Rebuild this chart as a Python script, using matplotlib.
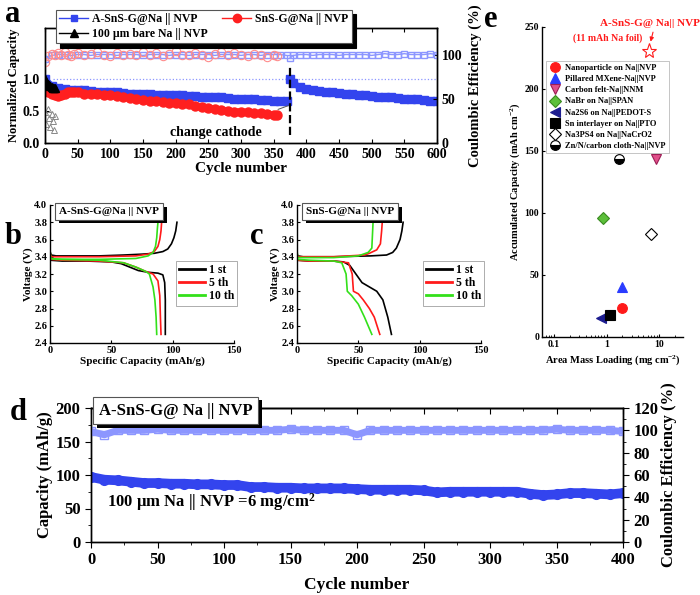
import numpy as np
import matplotlib
matplotlib.use("Agg")
import matplotlib.pyplot as plt
import matplotlib.patheffects as pe
from matplotlib.lines import Line2D

plt.rcParams["font.family"] = ["Liberation Serif", "DejaVu Serif"]
plt.rcParams["font.weight"] = "bold"
plt.rcParams["axes.labelweight"] = "bold"
plt.rcParams["mathtext.default"] = "regular"
plt.rcParams["axes.linewidth"] = 1.0

# ---------------- data: panel a ----------------
cyc_a_blue1 = np.arange(0, 371, 10)
cap_a_blue1 = [1.00, 0.89, 0.86, 0.84, 0.83, 0.82, 0.82, 0.81, 0.80, 0.80,
               0.79, 0.79, 0.78, 0.77, 0.77, 0.76, 0.76, 0.75, 0.75, 0.75,
               0.74, 0.74, 0.73, 0.73, 0.72, 0.72, 0.71, 0.71, 0.70, 0.69,
               0.69, 0.68, 0.68, 0.67, 0.67, 0.66, 0.66, 0.65]
ce_a_blue1 = [95, 99, 100, 100, 99, 100, 100, 99, 100, 100,
              100, 99, 100, 100, 100, 99, 100, 100, 100, 99,
              100, 100, 99, 100, 100, 100, 99, 100, 100, 100,
              99, 100, 100, 99, 100, 100, 100, 99]
cyc_a_blue2 = [375, 380, 390, 400, 410, 420, 430, 440, 450, 460, 470, 480,
               490, 500, 510, 520, 530, 540, 550, 560, 570, 580, 590, 600]
cap_a_blue2 = [1.00, 0.93, 0.87, 0.84, 0.82, 0.81, 0.80, 0.79, 0.78, 0.77,
               0.76, 0.75, 0.74, 0.73, 0.72, 0.72, 0.71, 0.70, 0.69, 0.68,
               0.68, 0.67, 0.66, 0.66]
ce_a_blue2 = [96, 99, 100, 100, 99, 100, 100, 100, 99, 100, 100, 100,
              100, 99, 100, 101, 100, 100, 101, 100, 100, 100, 101, 100]

cyc_a_red = [0, 5, 10, 15, 20, 25, 30, 35, 40, 45, 50, 60, 70, 80, 90, 100,
             110, 120, 130, 140, 150, 160, 170, 180, 190, 200, 210, 220, 230,
             240, 250, 260, 270, 280, 290, 300, 310, 320, 330, 340, 350, 355]
cap_a_red = [0.90, 0.80, 0.76, 0.74, 0.73, 0.74, 0.76, 0.79, 0.80, 0.80,
             0.79, 0.77, 0.76, 0.76, 0.75, 0.74, 0.73, 0.71, 0.70, 0.68,
             0.67, 0.66, 0.65, 0.64, 0.63, 0.62, 0.61, 0.60, 0.58, 0.56,
             0.54, 0.53, 0.52, 0.50, 0.49, 0.49, 0.48, 0.47, 0.46, 0.45,
             0.44, 0.43]
ce_a_red = [92, 98, 101, 100, 102, 99, 103, 100, 98, 101, 102, 99, 101, 103,
            100, 98, 102, 100, 101, 99, 103, 100, 102, 98, 101, 104, 100, 99,
            102, 100, 97, 101, 103, 99, 102, 100, 98, 101, 100, 97, 99, 98]

cyc_a_bare = [0, 2, 4, 6, 8, 10, 12, 14, 16]
cap_a_bare = [1.00, 0.95, 0.92, 0.90, 0.88, 0.87, 0.86, 0.85, 0.85]
ce_a_bare = [35, 22, 38, 28, 18, 33, 25, 15, 30]

# ---------------- data: panels b, c ----------------
b_curves = {
    "1 st": ([0, 1, 5, 20, 40, 60, 75, 85, 92, 96, 99, 101, 102.5, 103.5],
             [3.46, 3.42, 3.41, 3.41, 3.41, 3.42, 3.43, 3.44, 3.46, 3.49, 3.55, 3.62, 3.70, 3.80],
             [0, 10, 30, 50, 58, 65, 72, 80, 88, 92, 93.5, 94, 94, 94],
             [3.36, 3.35, 3.35, 3.34, 3.32, 3.28, 3.24, 3.22, 3.21, 3.19, 3.10, 2.90, 2.70, 2.50]),
    "5 th": ([0, 1, 10, 40, 70, 80, 85, 88, 89.5, 90.5, 91],
             [3.44, 3.40, 3.40, 3.40, 3.41, 3.43, 3.46, 3.52, 3.60, 3.70, 3.80],
             [0, 10, 40, 60, 70, 78, 84, 88, 89.5, 90, 90.5],
             [3.37, 3.36, 3.35, 3.33, 3.28, 3.23, 3.20, 3.12, 2.95, 2.70, 2.50]),
    "10 th": ([0, 0.5, 5, 40, 70, 80, 84, 86, 87, 87.5, 88],
              [3.50, 3.38, 3.37, 3.37, 3.38, 3.41, 3.45, 3.52, 3.62, 3.72, 3.80],
              [0, 10, 40, 60, 70, 78, 81, 84, 85.5, 86.5, 87],
              [3.38, 3.37, 3.36, 3.33, 3.28, 3.23, 3.20, 3.05, 2.90, 2.70, 2.50]),
}
c_curves = {
    "1 st": ([0, 0.5, 5, 30, 60, 73, 78, 81, 84, 85.5, 86.5],
             [3.45, 3.41, 3.40, 3.40, 3.41, 3.42, 3.45, 3.50, 3.60, 3.70, 3.80],
             [0, 10, 30, 38, 43, 48, 53, 59, 65, 70, 74, 77],
             [3.36, 3.35, 3.35, 3.34, 3.30, 3.20, 3.10, 3.05, 3.00, 2.90, 2.70, 2.50]),
    "5 th": ([0, 0.5, 5, 30, 55, 59, 65, 68, 69, 69.5],
             [3.44, 3.40, 3.40, 3.40, 3.42, 3.44, 3.48, 3.55, 3.70, 3.80],
             [0, 10, 30, 42, 45, 46, 50, 54, 59, 63, 67.5],
             [3.36, 3.35, 3.35, 3.33, 3.20, 3.00, 2.97, 2.90, 2.80, 2.70, 2.50]),
    "10 th": ([0, 0.5, 5, 30, 50, 58, 61, 61.5, 62],
              [3.48, 3.39, 3.39, 3.39, 3.41, 3.45, 3.50, 3.65, 3.80],
              [0, 10, 30, 36.5, 40, 41, 44.5, 50, 55, 61],
              [3.37, 3.36, 3.35, 3.33, 3.20, 3.00, 2.95, 2.85, 2.70, 2.50]),
}
curve_colors = {"1 st": "black", "5 th": "#ff1a1a", "10 th": "#33e01a"}

# ---------------- data: panel d ----------------
cyc_d = np.arange(0, 401, 10)
cap_d = [97, 93, 92, 90, 88, 88, 87, 87, 86, 86, 85, 85, 82, 82, 81, 81, 80,
         80, 80, 80, 79, 78, 78, 78, 78, 77, 74, 75, 75, 75, 75, 75, 75, 72,
         70, 71, 73, 73, 72, 71, 73]
ce_d = [99, 96, 100, 100, 100, 101, 100, 100, 100, 100, 100, 100, 100, 100,
        100, 101, 100, 100, 100, 100, 96, 100, 100, 100, 100, 100, 100, 100,
        100, 100, 100, 100, 100, 100, 100, 101, 100, 100, 100, 100, 99]

# ---------------- data: panel e ----------------
e_labels = ["Nanoparticle on Na||NVP", "Pillared MXene-Na||NVP",
            "Carbon felt-Na||NNM", "NaBr on Na||SPAN", "Na2S6 on Na||PEDOT-S",
            "Sn interlayer on Na||PTO", "Na3PS4 on Na||NaCrO2",
            "Zn/N/carbon cloth-Na||NVP"]
e_loading = [2.0, 2.0, 8.8, 0.85, 0.78, 1.15, 7.0, 1.7]
e_capacity = [23, 40, 143.5, 96, 15, 18, 83, 143.5]
e_markers = ["o", "^", "v", "D", "<", "s", "D", "o"]
e_face = ["#ff1a1a", "#2a3cff", "#e0508a", "#5cbf3a", "#1c1c8f", "black",
          "white", "black"]
e_edge = ["#ff1a1a", "#2a3cff", "#9c1e55", "#3a8a20", "#1c1c8f", "black",
          "black", "black"]
star_loading, star_capacity = 6.5, 231

# ---------------- figure ----------------
fig = plt.figure(figsize=(7.0, 5.95), dpi=100)

BLUE = "#3344ee"
LBLUE = "#8c96ff"
RED = "#ff1f1f"
LRED = "#ff8c8c"


def shadow_box(ax, x, y, s, size, **kw):
    t = ax.text(x, y, s, transform=ax.transAxes, fontsize=size,
                fontweight="bold", va="top", ha="left", zorder=10,
                bbox=dict(boxstyle="square,pad=0.35", fc="white", ec="#555555", lw=0.8), **kw)
    t.get_bbox_patch().set_path_effects(
        [pe.SimplePatchShadow(offset=(2.5, -2.5), shadow_rgbFace="black", alpha=1), pe.Normal()])
    return t


# ---- panel a ----
ax_a = fig.add_axes([45 / 700, 1 - 143 / 595, 392 / 700, 115 / 595])
ax_a2 = ax_a.twinx()
ax_a2.plot(cyc_a_blue1, ce_a_blue1, "-s", color=LBLUE, mfc="none", ms=4, lw=1)
ax_a2.plot(cyc_a_blue2, ce_a_blue2, "-s", color=LBLUE, mfc="none", ms=4, lw=1)
ax_a2.plot(cyc_a_red, ce_a_red, "o", color=LRED, mfc="none", ms=6, mew=0.8)
ax_a2.plot(cyc_a_bare, ce_a_bare, "^", color="#888888", mfc="none", ms=5, mew=0.7)
ax_a.axhline(1.0, xmin=0.02, color=LBLUE, ls=":", lw=0.9)
ax_a.plot(cyc_a_blue1, cap_a_blue1, "-s", color=BLUE, ms=6, lw=4.5)
ax_a.plot(cyc_a_blue2, cap_a_blue2, "-s", color=BLUE, ms=6, lw=4.5)
ax_a.plot(cyc_a_red, cap_a_red, "-o", color=RED, ms=6.5, lw=4.5)
ax_a.plot(cyc_a_bare, cap_a_bare, "-^", color="black", ms=5.5, lw=2.5)
ax_a.vlines(375, 0.12, 1.2, colors="black", linestyles="--", lw=1.6)
ax_a.annotate("change cathode", xy=(372, 0.58), xytext=(262, 0.17),
              ha="center", va="center", fontsize=10, fontweight="bold",
              arrowprops=dict(arrowstyle="-", color="#555555", lw=0.7,
                              shrinkA=28, shrinkB=0))
ax_a.set_xlim(0, 600)
ax_a.set_ylim(0, 1.79)
ax_a2.set_ylim(0, 130)
ax_a.set_xticks(np.arange(0, 601, 50))
ax_a.set_yticks([0, 0.5, 1.0])
ax_a2.set_yticks([0, 50, 100])
ax_a.tick_params(direction="in", top=True, labelsize=10, length=3)
ax_a2.tick_params(direction="in", labelsize=10, length=3)
ax_a.set_xlabel("Cycle number", fontsize=11, labelpad=1)
ax_a.set_ylabel("Normalized Capacity", fontsize=9, labelpad=2)
ax_a2.set_ylabel("Coulombic Efficiency (%)", fontsize=10.5, labelpad=4)

handles = [Line2D([], [], color=BLUE, marker="s", ms=5, lw=1),
           Line2D([], [], color="black", marker="^", ms=6, lw=1),
           Line2D([], [], color=RED, marker="o", ms=6, lw=1)]
leg = fig.legend(handles, ["A-SnS-G@Na || NVP", "100 \u00b5m bare Na || NVP",
                           "SnS-G@Na || NVP"],
                 loc="upper left", bbox_to_anchor=(50 / 700, 1 - 4 / 595),
                 ncol=2, fontsize=8.5, frameon=True, fancybox=False,
                 edgecolor="#555555", handlelength=2.4, columnspacing=1.2,
                 borderpad=0.3, labelspacing=0.2, handletextpad=0.4,
                 shadow={"color": "black", "alpha": 1, "ox": 3, "oy": -3})
leg.get_frame().set_linewidth(0.8)

# ---- panels b and c ----
for left, curves, title, letter, lx in [(50, b_curves, "A-SnS-G@Na || NVP", "b", 5),
                                        (297, c_curves, "SnS-G@Na || NVP", "c", 250)]:
    ax = fig.add_axes([left / 700, 1 - 343 / 595, 184 / 700, 138 / 595])
    for name, (qc, vc, qd, vd) in curves.items():
        ax.plot(qc, vc, color=curve_colors[name], lw=1.2)
        ax.plot(qd, vd, color=curve_colors[name], lw=1.2, label=name)
    ax.set_xlim(0, 150)
    ax.set_ylim(2.4, 4.0)
    ax.set_xticks([0, 50, 100, 150])
    ax.set_yticks(np.arange(2.4, 4.01, 0.2))
    ax.set_yticklabels([f"{v:.1f}" for v in np.arange(2.4, 4.01, 0.2)])
    ax.spines["top"].set_visible(False)
    ax.spines["right"].set_visible(False)
    ax.tick_params(direction="in", labelsize=7.5, length=2.5, pad=2)
    ax.set_xlabel("Specific Capacity (mAh/g)", fontsize=8, labelpad=1)
    ax.set_ylabel("Voltage (V)", fontsize=8, labelpad=1)
    lg = ax.legend(loc="upper left", bbox_to_anchor=(0.65, 0.64), fontsize=8.5,
                   frameon=True, fancybox=False, edgecolor="#888888",
                   handlelength=2.2, borderpad=0.3, labelspacing=0.1,
                   handletextpad=0.3)
    lg.get_frame().set_linewidth(0.6)
    for h in lg.legend_handles:
        h.set_linewidth(2)
    shadow_box(ax, 0.05, 0.985, title, 8)
    fig.text(lx / 700, 1 - 222 / 595, letter, fontsize=22, fontweight="bold",
             va="top", ha="left")

# ---- panel e ----
ax_e = fig.add_axes([542 / 700, 1 - 337 / 595, 141 / 700, 310 / 595])
for i in range(len(e_labels)):
    kw = {}
    if i == 7:
        kw = dict(fillstyle="bottom", markerfacecoloralt="white")
    ax_e.plot(e_loading[i], e_capacity[i], e_markers[i], ms=7 if e_markers[i] != "D" else 6,
              mfc=e_face[i], mec=e_edge[i], mew=0.8, ls="none", label=e_labels[i], **kw)
ax_e.plot(star_loading, star_capacity, "*", ms=11, mfc="none", mec="#ff1a1a", mew=0.8)
ax_e.annotate("", xy=(star_loading * 1.02, star_capacity + 5), xytext=(7.8, 248),
              annotation_clip=False,
              arrowprops=dict(arrowstyle="-|>", color="#ff1a1a", lw=0.8, mutation_scale=6))
fig.text(650 / 700, 1 - 23 / 595, "A-SnS-G@ Na|| NVP", color="#ff1a1a", fontsize=8,
         fontweight="bold", ha="center", va="center")
fig.text(608 / 700, 1 - 38 / 595, "(11 mAh Na foil)", color="#ff1a1a", fontsize=7,
         fontweight="bold", ha="center", va="center")
ax_e.set_xscale("log")
ax_e.set_xlim(0.06, 28)
ax_e.set_ylim(0, 250)
ax_e.set_yticks([0, 50, 100, 150, 200, 250])
ax_e.spines["top"].set_visible(False)
ax_e.spines["right"].set_visible(False)
ax_e.tick_params(direction="in", labelsize=7, length=2.5, pad=2)
ax_e.tick_params(which="minor", direction="in", length=1.5)
ax_e.set_xticks([0.1, 1, 10])
ax_e.set_xticklabels(["0.1", "1", "10"])
ax_e.set_xlabel("Area Mass Loading (mg cm$^{-2}$)", fontsize=7.5, labelpad=3)
ax_e.set_ylabel("Accumulated Capacity (mAh cm$^{-2}$)", fontsize=7.5, labelpad=2)
lge = ax_e.legend(loc="upper left", bbox_to_anchor=(0.0, 0.905), fontsize=6,
                  frameon=True, fancybox=False, edgecolor="#aaaaaa",
                  borderpad=0.4, labelspacing=0.38, handletextpad=0.5,
                  handlelength=1.4, markerscale=1.0)
lge.get_frame().set_linewidth(0.6)

# ---- panel d ----
ax_d = fig.add_axes([91 / 700, 1 - 542 / 595, 532 / 700, 134 / 595])
ax_d2 = ax_d.twinx()
ax_d2.plot(cyc_d, ce_d, "-s", color=LBLUE, mfc="none", ms=6, lw=5, mew=1)
ax_d.plot(cyc_d, cap_d, "-o", color=BLUE, ms=7, lw=7)
ax_d.set_xlim(0, 400)
ax_d.set_ylim(0, 200)
ax_d2.set_ylim(0, 120)
ax_d.set_xticks(np.arange(0, 401, 50))
ax_d.set_xticks(np.arange(0, 401, 25), minor=True)
ax_d.set_yticks(np.arange(0, 201, 50))
ax_d.set_yticks(np.arange(0, 201, 25), minor=True)
ax_d2.set_yticks(np.arange(0, 121, 20))
ax_d2.set_yticks(np.arange(0, 121, 10), minor=True)
ax_d.tick_params(which="both", direction="out", labelsize=12)
ax_d.tick_params(which="major", length=4)
ax_d.tick_params(which="minor", length=2)
ax_d2.tick_params(which="both", direction="out", labelsize=12)
ax_d2.tick_params(which="major", length=4)
ax_d2.tick_params(which="minor", length=2)
sec = ax_d.secondary_xaxis("top")
sec.set_xticks(np.arange(0, 401, 50))
sec.set_xticks(np.arange(0, 401, 25), minor=True)
sec.tick_params(which="both", direction="in", labeltop=False)
sec.tick_params(which="major", length=4)
sec.tick_params(which="minor", length=2)
ax_d.set_xlabel("Cycle number", fontsize=12.5, labelpad=6)
ax_d.set_ylabel("Capacity (mAh/g)", fontsize=12, labelpad=2)
ax_d2.set_ylabel("Coulombic Efficiency (%)", fontsize=12, labelpad=2)
ax_d.text(0.03, 0.3, "100 \u00b5m Na || NVP =6 mg/cm$^2$", transform=ax_d.transAxes,
          fontsize=12, fontweight="bold", va="center")
shadow_box(ax_d2, 0.015, 1.04, "A-SnS-G@ Na || NVP", 12)

# panel letters
fig.text(5 / 700, 1 - 0 / 595, "a", fontsize=22, fontweight="bold", va="top")
fig.text(10 / 700, 1 - 398 / 595, "d", fontsize=22, fontweight="bold", va="top")
fig.text(484 / 700, 1 - 5 / 595, "e", fontsize=22, fontweight="bold", va="top")

fig.savefig("out.png", dpi=100)
